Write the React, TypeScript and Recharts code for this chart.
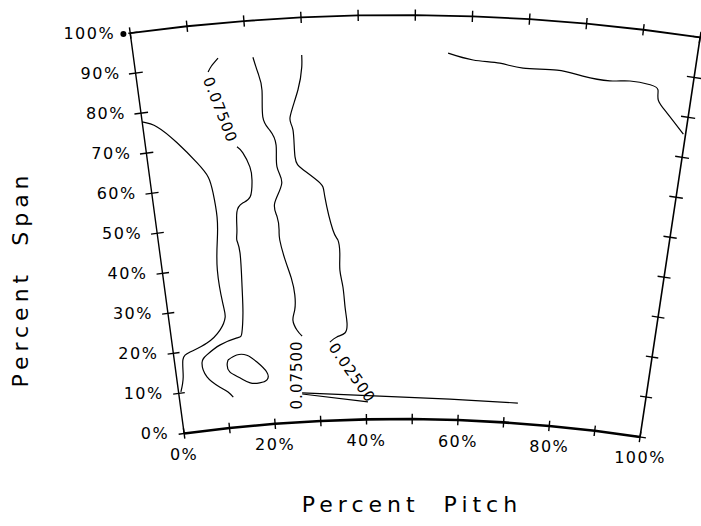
import React from 'react';
import { ComposedChart, Line, Scatter, XAxis, YAxis } from 'recharts';

// axis ticks (percent)
const pitchTicks = [0, 10, 20, 30, 40, 50, 60, 70, 80, 90, 100];
const spanTicks = [0, 10, 20, 30, 40, 50, 60, 70, 80, 90, 100];
const pitchLabelValues = [0, 20, 40, 60, 80, 100];
const spanLabelValues = [0, 10, 20, 30, 40, 50, 60, 70, 80, 90, 100];

// contour lines, [pitch %, span %]
const contourLeft = [
  [0, 77.8], [2.6, 76.1], [5.9, 71.6], [9.2, 66.1], [11.0, 62.3], [11.6, 58.3], [11.9, 52.3],
  [11.5, 46.6], [10.9, 39.2], [11.3, 30.9], [11.5, 27.4], [10.2, 24.4], [7.2, 21.5],
  [3.5, 19.8], [1.8, 18.1], [1.4, 13.9], [0.5, 10.3],
];
const contour075TopPiece = [[14.9, 91.4], [13.6, 89.6], [12.9, 88.2]];
const contour075 = [
  [16.9, 69.1], [17.9, 67.5], [19.0, 63.9], [19.2, 60.6], [18.6, 56.5], [17.0, 55.1],
  [15.8, 53.0], [15.5, 48.6], [15.3, 46.1], [15.7, 42.9], [15.5, 34.4], [15.2, 28.0],
  [14.6, 23.1], [13.5, 22.0], [9.9, 20.7], [6.9, 18.6], [5.7, 16.8], [6.4, 13.2],
  [8.9, 10.3], [10.5, 8.9], [11.5, 7.5],
];
const contour075b = [
  [21.1, 90.9], [21.8, 86.9], [22.3, 82.6], [22.1, 76.0], [23.2, 72.6], [24.2, 68.8],
  [24.1, 63.4], [24.8, 59.3], [23.2, 54.5], [23.5, 51.0], [23.7, 47.8], [23.7, 45.3],
  [24.5, 40.3], [25.5, 35.7], [26.0, 31.5], [25.8, 27.8], [25.3, 25.3], [26.0, 22.8], [27.0, 21.2],
];
const contour025 = [
  [29.8, 90.7], [29.7, 87.7], [28.8, 82.1], [27.1, 75.5], [27.5, 72.3], [27.6, 65.6],
  [29.0, 62.3], [32.1, 58.8], [32.9, 55.3], [34.2, 47.1], [35.1, 44.6], [35.4, 41.3],
  [35.3, 37.1], [35.8, 32.9], [36.1, 27.9], [36.4, 24.0], [35.9, 21.5], [34.2, 20.6], [32.7, 19.4],
];
const contourLoop = [
  [11.2, 16.8], [13.1, 17.8], [15.2, 17.5], [17.2, 15.6], [19.1, 12.9], [19.0, 11.0],
  [17.4, 10.4], [15.4, 10.6], [13.3, 12.1], [11.3, 13.8], [10.9, 15.6], [11.2, 16.8],
];
const contourHubLow = [[26.3, 6.9], [40.4, 4.3]];
const contourHubHigh = [[26.3, 7.2], [43.0, 5.7], [58.1, 5.1], [72.8, 5.0]];
const contourTip = [
  [55.9, 90.7], [60.4, 89.2], [65.2, 88.7], [69.4, 87.8], [75.5, 87.9], [80.2, 87.0],
  [85.1, 86.5], [88.7, 87.0], [92.4, 86.7], [93.9, 85.7], [94.2, 83.2], [96.1, 80.3], [99.6, 75.7],
];

// contour labels: text, pitch, span, rotation
const contourLabels = [
  { text: '0.07500', pitch: 14.4, span: 78.6, angle: 68.7 },
  { text: '0.07500', pitch: 25.5, span: 11.7, angle: -90 },
  { text: '0.02500', pitch: 37.1, span: 11.6, angle: 55 },
];

// the plot area is an annular sector; these place it in screen px
const CX = 399.8;
const CY = 2035;
const R_HUB = 1616;
const R_TIP = 2020;
const ANG_0 = -7.67;
const ANG_1 = 8.55;

const toXY = (pitch: number, span: number) => {
  const a = ((ANG_0 + ((ANG_1 - ANG_0) * pitch) / 100) * Math.PI) / 180;
  const r = R_HUB + ((R_TIP - R_HUB) * span) / 100;
  return { x: CX + r * Math.sin(a), y: CY - r * Math.cos(a) };
};

const path = (pts: number[][]) => pts.map(([p, s]) => toXY(p, s));

const frameBottom = pitchTicks.map((p) => toXY(p, 0));
const frameTop = pitchTicks.map((p) => toXY(p, 100));
const frameLeft = spanTicks.map((s) => toXY(0, s));
const frameRight = spanTicks.map((s) => toXY(100, s));

const tickMarks = [
  ...pitchTicks.map((p) => [[p, -1.3], [p, 1.3]]),
  ...pitchTicks.map((p) => [[p, 98.6], [p, 101.4]]),
  ...spanTicks.map((s) => [[-1.2, s], [1.3, s]]),
  ...spanTicks.map((s) => [[98.7, s], [101.3, s]]),
].map(path);

const xTickLabels = pitchLabelValues.map((p) => ({ ...toXY(p, 0), text: `${p}%` }));
const yTickLabels = spanLabelValues.map((s) => ({ ...toXY(0, s), text: `${s}%` }));
const contourLabelPts = contourLabels.map((l) => ({ ...toXY(l.pitch, l.span), text: l.text, angle: l.angle }));

const FONT = '"DejaVu Sans", sans-serif';

const contours = [contourLeft, contour075TopPiece, contour075, contour075b, contour025, contourLoop, contourHubLow, contourHubHigh, contourTip];

export default function App() {
  return (
    <div style={{ position: 'absolute', left: 0, top: 0, width: 701, height: 526, background: '#fff', fontFamily: FONT }}>
      <ComposedChart width={701} height={526} margin={{ top: 0, right: 0, bottom: 0, left: 0 }}>
        <XAxis type="number" dataKey="x" domain={[0, 701]} hide allowDataOverflow />
        <YAxis type="number" dataKey="y" domain={[0, 526]} reversed hide allowDataOverflow />

        <Line data={frameBottom} dataKey="y" stroke="#000" strokeWidth={2.6} dot={false} isAnimationActive={false} />
        <Line data={frameTop} dataKey="y" stroke="#000" strokeWidth={1.8} dot={false} isAnimationActive={false} />
        <Line data={frameLeft} dataKey="y" stroke="#000" strokeWidth={1.4} dot={false} isAnimationActive={false} />
        <Line data={frameRight} dataKey="y" stroke="#000" strokeWidth={1.6} dot={false} isAnimationActive={false} />
        {tickMarks.map((t, i) => (
          <Line key={`t${i}`} data={t} dataKey="y" stroke="#000" strokeWidth={1.4} dot={false} isAnimationActive={false} />
        ))}

        {contours.map((c, i) => (
          <Line key={`c${i}`} data={path(c)} dataKey="y" type="natural" stroke="#000" strokeWidth={1.2} dot={false} isAnimationActive={false} />
        ))}

        <Scatter
          data={xTickLabels}
          isAnimationActive={false}
          shape={(p: any) => (
            <text x={p.cx} y={p.cy + 21} textAnchor="middle" dominantBaseline="central" fontSize={16} letterSpacing={1.5} fontFamily={FONT} fill="#000">
              {p.payload.text}
            </text>
          )}
        />
        <Scatter
          data={yTickLabels}
          isAnimationActive={false}
          shape={(p: any) => (
            <text x={p.cx - 15} y={p.cy} textAnchor="end" dominantBaseline="central" fontSize={16} letterSpacing={1.5} fontFamily={FONT} fill="#000">
              {p.payload.text}
            </text>
          )}
        />
        <Scatter
          data={contourLabelPts}
          isAnimationActive={false}
          shape={(p: any) => (
            <text
              x={p.cx}
              y={p.cy}
              transform={`rotate(${p.payload.angle} ${p.cx} ${p.cy})`}
              textAnchor="middle"
              dominantBaseline="central"
              fontSize={15}
              letterSpacing={1}
              fontFamily={FONT}
              fill="#000"
            >
              {p.payload.text}
            </text>
          )}
        />
      </ComposedChart>
      <div style={{ position: 'absolute', left: 412, top: 504, transform: 'translate(-50%, -50%)', fontSize: 22, letterSpacing: 5, whiteSpace: 'pre' }}>
        Percent  Pitch
      </div>
      <div style={{ position: 'absolute', left: 20, top: 279, transform: 'translate(-50%, -50%) rotate(-90deg)', fontSize: 22, letterSpacing: 5, whiteSpace: 'pre' }}>
        Percent  Span
      </div>
    </div>
  );
}
